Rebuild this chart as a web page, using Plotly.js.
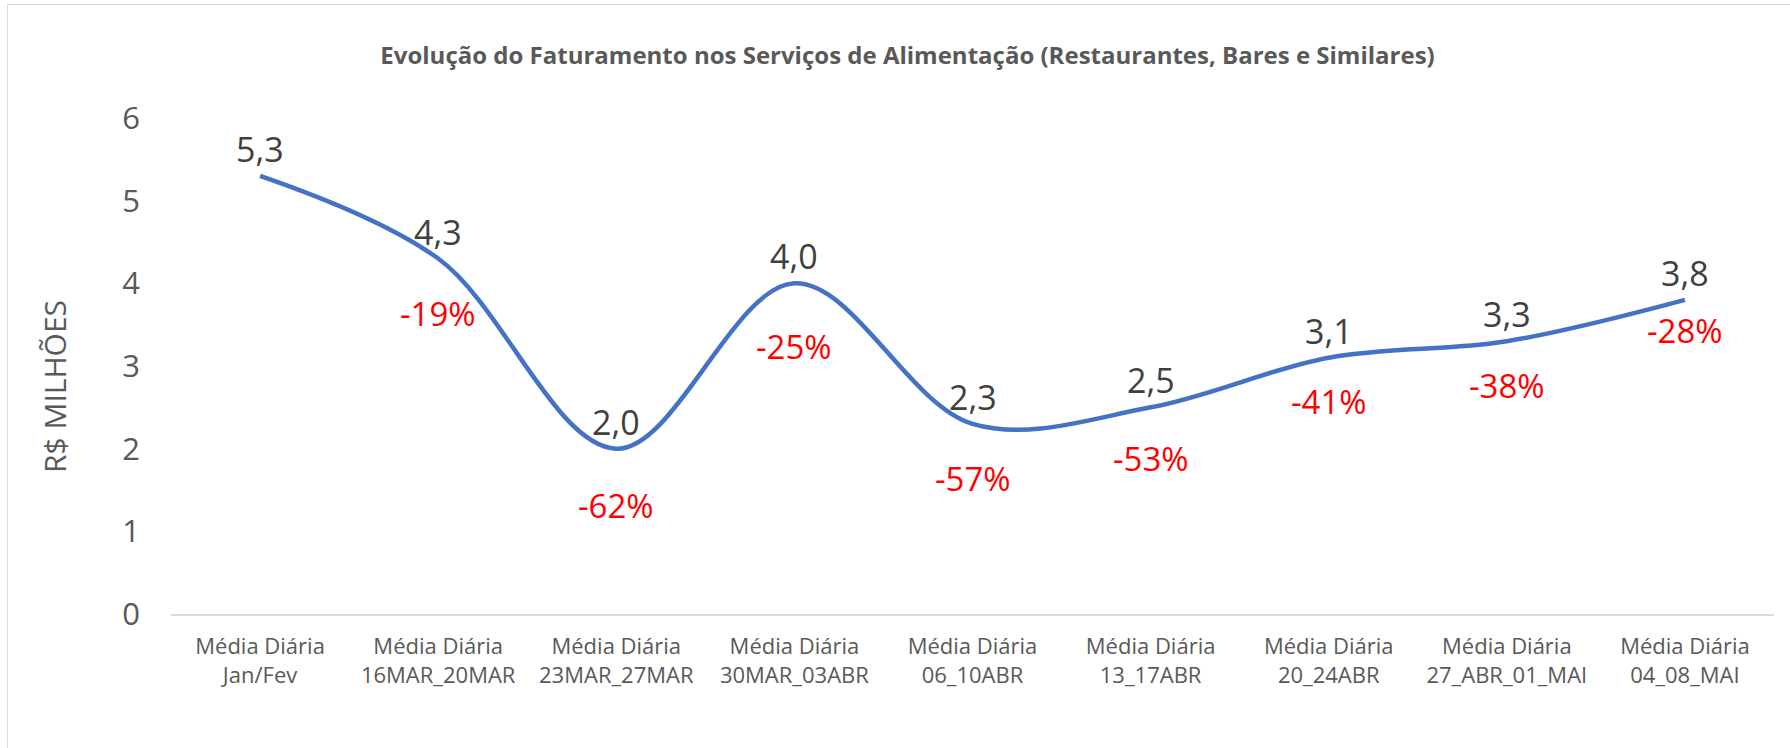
<!DOCTYPE html>
<html>
<head>
<meta charset="utf-8">
<script src="https://cdn.plot.ly/plotly-3.0.1.min.js"></script>
<style>
  html, body { margin: 0; padding: 0; background: #ffffff; }
  #wrap { position: relative; width: 1790px; height: 748px; overflow: hidden; }
  #frame { position: absolute; left: 7px; top: 4px; width: 1800px; height: 800px;
           border-left: 1px solid #D9D9D9; border-top: 1px solid #D9D9D9; pointer-events: none; }
  #chart { position: absolute; left: 0; top: 0; width: 1790px; height: 748px; }
</style>
</head>
<body>
<div id="wrap">
  <div id="chart"></div>
  <div id="frame"></div>
</div>
<script>
// ---- data ----
const categories = [
  "Média Diária<br>Jan/Fev",
  "Média Diária<br>16MAR_20MAR",
  "Média Diária<br>23MAR_27MAR",
  "Média Diária<br>30MAR_03ABR",
  "Média Diária<br>06_10ABR",
  "Média Diária<br>13_17ABR",
  "Média Diária<br>20_24ABR",
  "Média Diária<br>27_ABR_01_MAI",
  "Média Diária<br>04_08_MAI"
];
const faturamento = [5.3, 4.3, 2.0, 4.0, 2.3, 2.5, 3.1, 3.3, 3.8];
const variacaoPct = [null, -19, -62, -25, -57, -53, -41, -38, -28];
const yTicks = [0, 1, 2, 3, 4, 5, 6];

// ---- label placement styles (pixel offsets below the point) ----
const pctOffset = [0, 55, 57, 63, 55, 51, 44, 44, 31];
const valOffset = 27;

const FONT = "'Open Sans', 'Liberation Sans', sans-serif";

const fmtComma = v => v.toFixed(1).replace('.', ',');

const trace = {
  type: 'scatter',
  mode: 'lines',
  x: categories,
  y: faturamento,
  line: { color: '#4472C4', width: 4.5, shape: 'spline', smoothing: 1 },
  hoverinfo: 'skip',
  showlegend: false
};

const annotations = [];
categories.forEach((c, i) => {
  annotations.push({
    x: c, y: faturamento[i], xref: 'x', yref: 'y',
    text: fmtComma(faturamento[i]),
    showarrow: false, yshift: valOffset,
    font: { family: FONT, size: 34, color: '#404040' }
  });
  if (variacaoPct[i] !== null) {
    annotations.push({
      x: c, y: faturamento[i], xref: 'x', yref: 'y',
      text: variacaoPct[i] + '%',
      showarrow: false, yshift: -pctOffset[i],
      font: { family: FONT, size: 33, color: '#FF0000' }
    });
  }
});

// y-axis title (placed as annotation to match the reference's off-centre position)
annotations.push({
  xref: 'paper', yref: 'paper', x: 0, y: 0.5,
  xanchor: 'center', yanchor: 'middle',
  xshift: -117, yshift: -21,
  textangle: -90,
  text: 'R$ MILHÕES', showarrow: false,
  font: { family: FONT, size: 30, color: '#595959' }
});

const layout = {
  width: 1790, height: 748,
  margin: { l: 171, r: 16, t: 118, b: 134 },
  paper_bgcolor: '#ffffff', plot_bgcolor: '#ffffff',
  title: {
    text: 'Evolução do Faturamento nos Serviços de Alimentação (Restaurantes, Bares e Similares)',
    font: { family: FONT, size: 24, color: '#595959', weight: 'bold' },
    x: 0.507, xanchor: 'center', y: 0.926, yanchor: 'middle'
  },
  xaxis: {
    type: 'category',
    range: [-0.5, categories.length - 0.5],
    showgrid: false, zeroline: false,
    showline: true, linecolor: '#D9D9D9', linewidth: 1.5,
    ticks: '', tickfont: { family: FONT, size: 22, color: '#595959' },
    ticklabelstandoff: 12,
    fixedrange: true
  },
  yaxis: {
    range: [0, 6],
    tickvals: yTicks,
    ticktext: yTicks.map(String),
    showgrid: false, zeroline: false, showline: false,
    ticks: '', tickfont: { family: FONT, size: 31, color: '#595959' },
    ticklabelstandoff: 30,
    automargin: false,
    fixedrange: true
  },
  annotations: annotations
};

Plotly.newPlot('chart', [trace], layout, { displayModeBar: false, staticPlot: true });
</script>
</body>
</html>
